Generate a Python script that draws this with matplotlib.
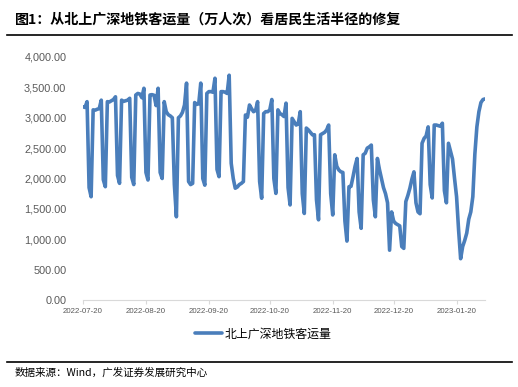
import numpy as np
import pandas as pd
import matplotlib
matplotlib.use("Agg")
import matplotlib.pyplot as plt
import matplotlib.dates as mdates
from matplotlib.lines import Line2D
from matplotlib.ticker import FuncFormatter

plt.rcParams['font.family'] = ['Noto Sans CJK SC', 'DejaVu Sans']

title = "图1：从北上广深地铁客运量（万人次）看居民生活半径的修复"
source = "数据来源：Wind，广发证券发展研究中心"
series_name = "北上广深地铁客运量"

start_date = "2022-07-20"
# daily values, one row per week (first row starts on Wed 2022-07-20)
metro = [
    3180, 3170, 3265, 1850, 1700,
    3130, 3125, 3140, 3150, 3290, 1980, 1865,
    3265, 3260, 3280, 3300, 3345, 2050, 1920,
    3290, 3270, 3280, 3290, 3320, 2020, 1900,
    3375, 3400, 3390, 3330, 3485, 2100, 1975,
    3375, 3380, 3370, 3200, 3485, 2100, 2000,
    3265, 3100, 3050, 3030, 3000, 1900, 1370,
    3000, 3030, 3090, 3210, 3570, 1950, 1900,
    1920, 3250, 3220, 3230, 3570, 2000, 1890,
    3400, 3430, 3430, 3420, 3650, 2150, 2030,
    3430, 3430, 3420, 3400, 3700, 2250, 2000,
    1840, 1860, 1900, 1920, 1950, 3045, 3010,
    3210, 3150, 3100, 3120, 3265, 1950, 1675,
    3070, 3100, 3100, 3130, 3300, 2000, 1755,
    3130, 3070, 3050, 3020, 3240, 1850, 1565,
    2990, 2935, 2880, 2900, 3100, 1750, 1425,
    2830, 2800, 2760, 2720, 2720, 1650, 1320,
    2720, 2740, 2760, 2800, 2880, 1750, 1400,
    2390, 2200, 2140, 2110, 2100, 1300, 970,
    1865, 1870, 2030, 2200, 2330, 1450, 1180,
    2390, 2415, 2500, 2520, 2550, 1650, 1370,
    2330, 2150, 2000, 1850, 1750, 1600, 820,
    1450, 1300, 1260, 1240, 1220, 880, 850,
    1620, 1720, 1840, 1990, 2110, 1600, 1450,
    1420, 2580, 2660, 2700, 2850, 1900, 1680,
    2880, 2880, 2870, 2860, 2910, 1800, 1600,
    2580, 2450, 2320, 2000, 1700, 1150, 680,
    880, 980, 1100, 1330, 1450, 1700, 2400,
    2850, 3100, 3250, 3300, 3310,
]
dates = pd.date_range(start_date, periods=len(metro), freq="D")
tick_dates = pd.to_datetime(["2022-07-20", "2022-08-20", "2022-09-20", "2022-10-20",
                             "2022-11-20", "2022-12-20", "2023-01-20"])

fig = plt.figure(figsize=(5.18, 3.87), dpi=100)
ax = fig.add_axes([83/518, 1-300/387, (485-83)/518, (300-57)/387])

ax.plot(dates, metro, color="#4a7ebb", lw=2.6, solid_joinstyle="round",
        solid_capstyle="round", label=series_name)

ax.set_ylim(0, 4000)
ax.set_yticks(np.arange(0, 4001, 500))
ax.yaxis.set_major_formatter(FuncFormatter(lambda v, p: f"{v:,.2f}"))
ax.set_xlim(dates[0], dates[-1])
ax.set_xticks(tick_dates)
ax.xaxis.set_major_formatter(mdates.DateFormatter("%Y-%m-%d"))

for s in ["top", "right", "left"]:
    ax.spines[s].set_visible(False)
ax.spines["bottom"].set_color("#d9d9d9")
ax.tick_params(axis="y", length=0, pad=12, labelsize=7.8, labelcolor="#595959")
ax.tick_params(axis="x", length=3, color="#d9d9d9", pad=2.5, labelsize=5.7, labelcolor="#595959")
for lab in ax.get_xticklabels() + ax.get_yticklabels():
    lab.set_family(["Liberation Sans", "DejaVu Sans"])

fig.legend(loc="center", bbox_to_anchor=(263/518, 1-334/387), frameon=False,
           fontsize=8.6, handlelength=2.3, handletextpad=0.15)

fig.text(15/518, 1-20/387, title, fontsize=10.1, fontweight="bold", va="center", ha="left")
fig.add_artist(Line2D([7/518, 512/518], [1-35/387, 1-35/387], color="black", lw=1.2))
fig.add_artist(Line2D([7/518, 512/518], [1-362/387, 1-362/387], color="black", lw=1.2))
fig.text(15/518, 1-373/387, source, fontsize=7.6, va="center", ha="left")

fig.savefig("out.png", dpi=100)
